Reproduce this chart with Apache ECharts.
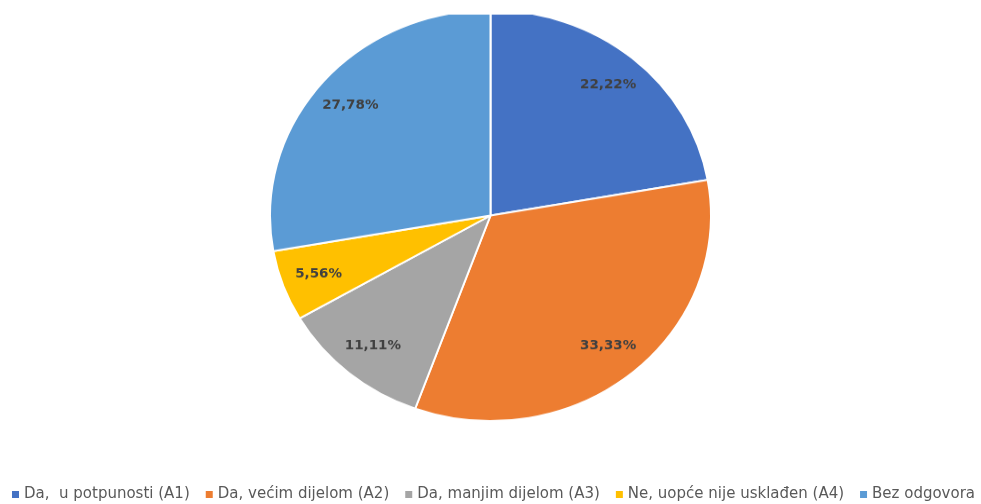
<!DOCTYPE html>
<html><head><meta charset="utf-8">
<script src="https://cdn.jsdelivr.net/npm/echarts@6/dist/echarts.min.js"></script>
<style>html,body{margin:0;padding:0;background:#fff}
#wrap{position:relative;width:981px;height:504px;overflow:hidden}
#pie{position:absolute;left:0;top:0;width:981px;height:504px;transform:scaleY(0.932);transform-origin:490px 215.5px}
#leg{position:absolute;left:3px;top:0;width:981px;height:504px}
</style>
</head><body><div id="wrap"><div id="pie"></div><div id="leg"></div></div>
<script>
const categories = ['Da,  u potpunosti (A1)', 'Da, većim dijelom (A2)', 'Da, manjim dijelom (A3)', 'Ne, uopće nije usklađen (A4)', 'Bez odgovora'];
const values = [22.22, 33.33, 11.11, 5.56, 27.78];
const colors = ['#4472C4', '#ED7D31', '#A5A5A5', '#FFC000', '#5B9BD5'];

const data = categories.map((n, i) => ({ name: n, value: values[i] }));
const pie = echarts.init(document.getElementById('pie'), null, { renderer: 'canvas' });
pie.setOption({
  animation: false,
  color: colors,
  series: [
    {
      type: 'pie', center: [490.5, 215.5], radius: [0, 220.5], startAngle: 90, clockwise: true,
      itemStyle: { borderColor: '#fff', borderWidth: 2 },
      label: { show: false }, labelLine: { show: false },
      emphasis: { disabled: true },
      data: data
    },
    {
      type: 'pie', center: [490.5, 215.5], radius: [154, 206], startAngle: 90, clockwise: true,
      silent: true,
      itemStyle: { color: 'transparent' },
      label: { show: true, position: 'inside', color: '#404040', fontWeight: 'bold', fontSize: 13.5, fontFamily: 'DejaVu Sans',
        formatter: p => p.value.toFixed(2).replace('.', ',') + '%' },
      labelLine: { show: false },
      emphasis: { disabled: true },
      data: data
    }
  ]
});
const leg = echarts.init(document.getElementById('leg'), null, { renderer: 'canvas' });
leg.setOption({
  animation: false,
  color: colors,
  legend: {
    top: 482, left: 'center',
    itemWidth: 7, itemHeight: 7, itemGap: 16,
    icon: 'rect', selectedMode: false,
    textStyle: { color: '#595959', fontSize: 15, fontFamily: 'DejaVu Sans' },
    data: categories
  },
  series: [{ type: 'pie', radius: 0, label: { show: false }, data: data }]
});
</script></body></html>
